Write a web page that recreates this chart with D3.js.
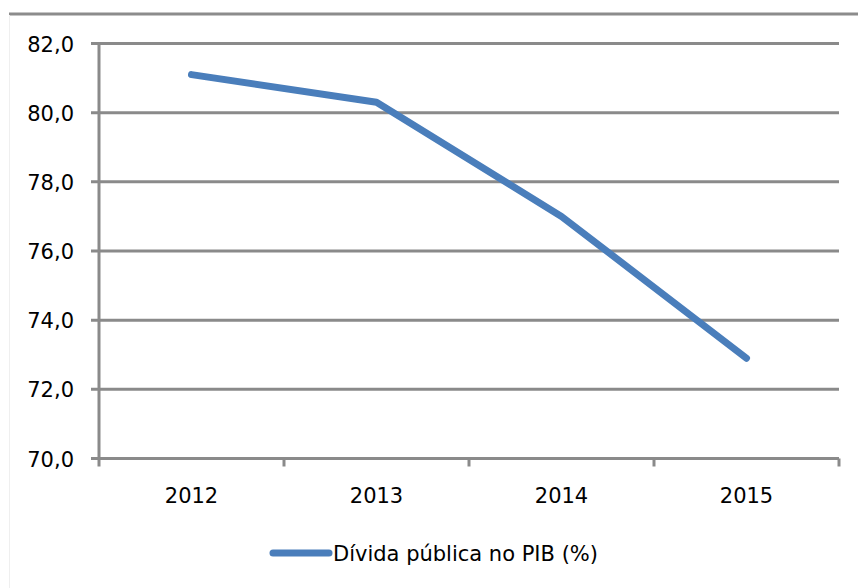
<!DOCTYPE html>
<html>
<head>
<meta charset="utf-8">
<script src="https://cdn.jsdelivr.net/npm/d3@7"></script>
<style>
  body { margin: 0; background: #fff; }
  svg { display: block; font-family: "DejaVu Sans", Verdana, sans-serif; }
</style>
</head>
<body>
<svg id="chart" width="858" height="588"></svg>
<script>
// data
var years = ['2012', '2013', '2014', '2015'];
var divida = [81.1, 80.3, 77.0, 72.9];
var yTicks = [70, 72, 74, 76, 78, 80, 82];
var seriesName = 'Dívida pública no PIB (%)';

(function() {
    var svg = d3.select('#chart');
    var plotLeft = 99, plotRight = 839, plotTop = 43.5, plotBottom = 458.5;
    var gridColor = '#8a8a8a';
    var lineColor = '#4a7ebb';
    var fontSize = 21;

    // outer frame bits
    svg.append('line')
        .attr('x1', 9).attr('x2', 858).attr('y1', 14).attr('y2', 14)
        .attr('stroke', '#8c8c8c').attr('stroke-width', 3);
    svg.append('line')
        .attr('x1', 9.5).attr('x2', 9.5).attr('y1', 15).attr('y2', 588)
        .attr('stroke', '#efefef').attr('stroke-width', 1);

    var x = d3.scaleBand().domain(years).range([plotLeft, plotRight]);
    var y = d3.scaleLinear().domain([70, 82]).range([plotBottom, plotTop]);

    // horizontal gridlines + left ticks
    svg.selectAll('.grid')
        .data(yTicks)
        .enter().append('line')
        .attr('class', 'grid')
        .attr('x1', plotLeft - 8).attr('x2', plotRight)
        .attr('y1', function(d) { return y(d); })
        .attr('y2', function(d) { return y(d); })
        .attr('stroke', gridColor).attr('stroke-width', 3);

    svg.selectAll('.ylab')
        .data(yTicks)
        .enter().append('text')
        .attr('class', 'ylab')
        .attr('x', 74)
        .attr('y', function(d) { return y(d) + 8; })
        .attr('text-anchor', 'end')
        .attr('font-size', fontSize)
        .attr('fill', '#000')
        .text(function(d) { return d3.format('.1f')(d).replace('.', ','); });

    // left axis line
    svg.append('line')
        .attr('x1', plotLeft).attr('x2', plotLeft)
        .attr('y1', plotTop - 1).attr('y2', plotBottom + 8)
        .attr('stroke', gridColor).attr('stroke-width', 3);

    // x category boundary ticks
    var bounds = years.map(function(d) { return x(d); }).concat([plotRight]);
    svg.selectAll('.xtick')
        .data(bounds.slice(1))
        .enter().append('line')
        .attr('class', 'xtick')
        .attr('x1', function(d) { return d; })
        .attr('x2', function(d) { return d; })
        .attr('y1', plotBottom).attr('y2', plotBottom + 8)
        .attr('stroke', gridColor).attr('stroke-width', 3);

    svg.selectAll('.xlab')
        .data(years)
        .enter().append('text')
        .attr('class', 'xlab')
        .attr('x', function(d) { return x(d) + x.bandwidth() / 2; })
        .attr('y', 503)
        .attr('text-anchor', 'middle')
        .attr('font-size', fontSize)
        .attr('fill', '#000')
        .text(function(d) { return d; });

    // series line
    var line = d3.line()
        .x(function(d, i) { return x(years[i]) + x.bandwidth() / 2; })
        .y(function(d) { return y(d); });

    svg.append('path')
        .datum(divida)
        .attr('d', line)
        .attr('fill', 'none')
        .attr('stroke', lineColor)
        .attr('stroke-width', 7)
        .attr('stroke-linecap', 'round')
        .attr('stroke-linejoin', 'round');

    // legend
    svg.append('line')
        .attr('x1', 273).attr('x2', 329)
        .attr('y1', 553).attr('y2', 553)
        .attr('stroke', lineColor).attr('stroke-width', 7)
        .attr('stroke-linecap', 'round');
    svg.append('text')
        .attr('x', 333).attr('y', 561)
        .attr('font-size', fontSize)
        .attr('fill', '#000')
        .text(seriesName);
})();
</script>
</body>
</html>
